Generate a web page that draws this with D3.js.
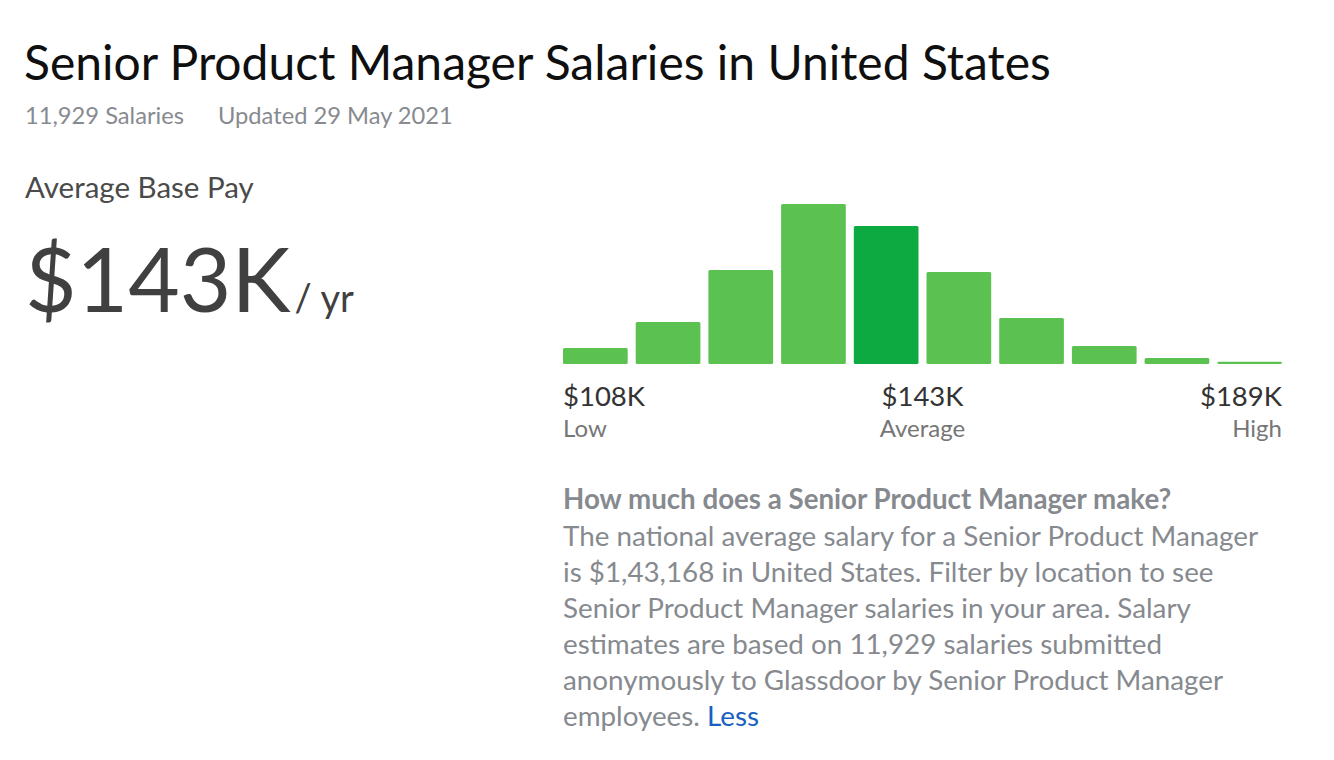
<!DOCTYPE html>
<html>
<head>
<meta charset="utf-8">
<script src="https://cdn.jsdelivr.net/npm/d3@7"></script>
<style>
  html, body { margin: 0; padding: 0; background: #fff; }
  svg { display: block; font-family: Lato, "Open Sans", sans-serif; }
</style>
</head>
<body>
<svg id="chart" width="1334" height="760"></svg>
<script>
// ---- data ----
const bins = ["b1","b2","b3","b4","b5","b6","b7","b8","b9","b10"];
const counts = [16, 42, 94, 160, 138, 92, 46, 18, 6, 2.3];
const highlightIndex = 4;
const rangeLabels = ["$108K", "$143K", "$189K"];
const rangeCaptions = ["Low", "Average", "High"];
const title = "Senior Product Manager Salaries in United States";
const subtitleParts = ["11,929 Salaries", "Updated 29 May 2021"];
const payLabel = "Average Base Pay";
const payValue = "$143K";
const payUnit = "/ yr";
const descHeading = "How much does a Senior Product Manager make?";
const descLines = [
  "The national average salary for a Senior Product Manager",
  "is $1,43,168 in United States. Filter by location to see",
  "Senior Product Manager salaries in your area. Salary",
  "estimates are based on 11,929 salaries submitted",
  "anonymously to Glassdoor by Senior Product Manager",
  "employees."
];
const descLink = "Less";

// ---- drawing ----
const svg = d3.select("#chart");

svg.append("text").attr("x", 24).attr("y", 80)
  .attr("font-size", 48).attr("fill", "#0f0f0f").text(title);

svg.append("text").attr("x", 25).attr("y", 124)
  .attr("font-size", 23.7).attr("fill", "#878a8f").text(subtitleParts[0]);
svg.append("text").attr("x", 218).attr("y", 124)
  .attr("font-size", 23.7).attr("fill", "#878a8f").text(subtitleParts[1]);

svg.append("text").attr("x", 25).attr("y", 198)
  .attr("font-size", 29.5).attr("fill", "#4a4a4a").text(payLabel);

const big = svg.append("text").attr("x", 25).attr("y", 312).attr("fill", "#404040");
big.append("tspan").attr("font-size", 89).text(payValue);
big.append("tspan").attr("font-size", 38).attr("dx", 4).text(payUnit);

// chart
const left = 563, right = 1282, baseline = 364, maxH = 160;
const x = d3.scaleBand().domain(bins).range([left, right]).paddingInner(0.11).paddingOuter(0);
const y = d3.scaleLinear().domain([0, d3.max(counts)]).range([baseline, baseline - maxH]);

svg.append("g").selectAll("rect").data(counts).join("rect")
  .attr("x", (d, i) => x(bins[i]))
  .attr("y", d => y(d))
  .attr("width", x.bandwidth())
  .attr("height", d => baseline - y(d))
  .attr("rx", 1.5)
  .attr("fill", (d, i) => i === highlightIndex ? "#0caa41" : "#5bc252");

const anchors = ["start", "middle", "end"];
const lx = [left, (left + right) / 2, right];
rangeLabels.forEach((t, i) => {
  svg.append("text").attr("x", lx[i]).attr("y", 406).attr("text-anchor", anchors[i])
    .attr("font-size", 27.5).attr("fill", "#333").text(t);
  svg.append("text").attr("x", lx[i]).attr("y", 437).attr("text-anchor", anchors[i])
    .attr("font-size", 24).attr("fill", "#767676").text(rangeCaptions[i]);
});

svg.append("text").attr("x", 563).attr("y", 509)
  .attr("font-size", 27.7).attr("font-weight", "bold").attr("fill", "#868a8f").text(descHeading);

descLines.forEach((t, i) => {
  const tx = svg.append("text").attr("x", 563).attr("y", 546 + i * 36)
    .attr("font-size", 27.8).attr("fill", "#868a8f");
  tx.append("tspan").text(t);
  if (i === descLines.length - 1) {
    tx.append("tspan").attr("fill", "#1861bf").text(" " + descLink);
  }
});
</script>
</body>
</html>
